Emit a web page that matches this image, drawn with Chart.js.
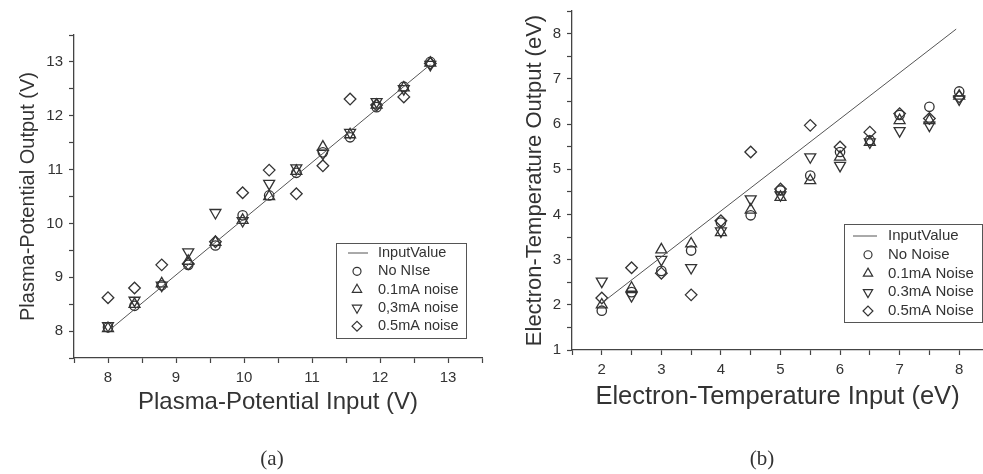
<!DOCTYPE html>
<html>
<head>
<meta charset="utf-8">
<script src="https://cdn.jsdelivr.net/npm/chart.js@4.4.1/dist/chart.umd.min.js"></script>
<style>
html,body{margin:0;padding:0;background:#fff;}
#wrap{position:relative;width:983px;height:474px;overflow:hidden;background:#fff;}
.pane{position:absolute;top:0;height:474px;}
.cap{position:absolute;top:446px;font-family:"Liberation Serif","DejaVu Serif",serif;font-size:21px;color:#333;transform:translateX(-50%);white-space:nowrap;}
</style>
</head>
<body>
<div id="wrap">
  <div class="pane" style="left:0;width:500px;"><canvas id="cA" width="500" height="474"></canvas></div>
  <div class="pane" style="left:500px;width:483px;"><canvas id="cB" width="483" height="474"></canvas></div>
  <div class="cap" style="left:272px;">(a)</div>
  <div class="cap" style="left:762px;">(b)</div>
</div>
<script>
// ---------- Panel (a): plasma potential ----------
const plasmaInput   = [8.0, 8.39, 8.79, 9.18, 9.58, 9.98, 10.37, 10.77, 11.16, 11.56, 11.95, 12.35, 12.74];
const plasmaLineX   = [8.05, 12.74];
const plasmaLineY   = [8.05, 12.95];
const plasmaNoNoise = [8.07, 8.47, 8.85, 9.23, 9.59, 10.15, 10.52, 10.94, 11.32, 11.60, 12.16, 12.54, 13.00];
const plasma01mA    = [8.05, 8.50, 8.88, 9.30, 9.65, 10.06, 10.50, 10.97, 11.42, 11.65, 12.20, 12.52, 12.98];
const plasma03mA    = [8.10, 8.57, 8.85, 9.47, 10.20, 10.05, 10.74, 11.03, 11.30, 11.69, 12.26, 12.50, 12.95];
const plasma05mA    = [8.62, 8.80, 9.23, 9.25, 9.66, 10.57, 10.99, 10.55, 11.07, 12.31, 12.20, 12.35, 12.97];
const plasmaXTicks  = [8, 9, 10, 11, 12, 13];
const plasmaYTicks  = [8, 9, 10, 11, 12, 13];
const plasmaLabels  = ['InputValue', 'No NIse', '0.1mA noise', '0,3mA noise', '0.5mA noise'];

// ---------- Panel (b): electron temperature ----------
const tempInput   = [2, 2.5, 3, 3.5, 4, 4.5, 5, 5.5, 6, 6.5, 7, 7.5, 8];
const tempLineX   = [2.0, 7.95];
const tempLineY   = [2.04, 8.1];
const tempNoNoise = [1.87, 2.28, 2.75, 3.20, 3.82, 3.98, 4.53, 4.86, 5.38, 5.64, 6.20, 6.38, 6.72];
const temp01mA    = [2.00, 2.37, 3.22, 3.35, 3.60, 4.10, 4.38, 4.75, 5.27, 5.60, 6.08, 6.08, 6.62];
const temp03mA    = [2.52, 2.20, 3.00, 2.82, 3.63, 4.34, 4.43, 5.27, 5.08, 5.60, 5.85, 5.97, 6.55];
const temp05mA    = [2.15, 2.82, 2.70, 2.22, 3.86, 5.38, 4.56, 5.97, 5.49, 5.82, 6.23, 6.12, 6.60];
const tempXTicks  = [2, 3, 4, 5, 6, 7, 8];
const tempYTicks  = [1, 2, 3, 4, 5, 6, 7, 8];
const tempLabels  = ['InputValue', 'No Noise', '0.1mA Noise', '0.3mA Noise', '0.5mA Noise'];

const FONT = '"Liberation Sans", Arial, Helvetica, sans-serif';
const INK = '#333';
const MARK = '#333';

function pts(xs, ys) { return xs.map((x, i) => ({ x: x, y: ys[i] })); }

function makeDatasets(lineX, lineY, xs, s1, s2, s3, s4, labels) {
  const base = { showLine: false, backgroundColor: 'rgba(0,0,0,0)', borderColor: MARK, borderWidth: 1.3 };
  return [
    { label: labels[0], data: pts(lineX, lineY), showLine: true, pointRadius: 0, borderColor: '#555', borderWidth: 1, backgroundColor: 'rgba(0,0,0,0)' },
    Object.assign({ label: labels[1], data: pts(xs, s1), pointStyle: 'circle', pointRadius: 4.7 }, base),
    Object.assign({ label: labels[2], data: pts(xs, s2), pointStyle: 'triangle', pointRadius: 6.3 }, base),
    Object.assign({ label: labels[3], data: pts(xs, s3), pointStyle: 'triangle', pointRotation: 180, pointRadius: 6.3 }, base),
    Object.assign({ label: labels[4], data: pts(xs, s4), pointStyle: 'rectRot', pointRadius: 5.8 }, base)
  ];
}

function near(a, b) { return Math.abs(a - b) < 1e-3; }
function halfStepFilter(s) {
  s.ticks = s.ticks.filter(t => near(t.value * 2, Math.round(t.value * 2)));
}

function axis(min, max, labels, title, isX, size, titleSize, titlePad) {
  return {
    type: 'linear', min: min, max: max,
    afterBuildTicks: halfStepFilter,
    afterFit: s => {
      if (isX) s.height = size; else s.width = size;
      s.paddingLeft = 0; s.paddingRight = 0; s.paddingTop = 0; s.paddingBottom = 0;
    },
    ticks: {
      stepSize: 0.5, includeBounds: false, autoSkip: false, maxRotation: 0, padding: 6, color: INK,
      font: { family: FONT, size: 15 },
      callback: v => { const m = labels.find(l => near(l, v)); return m === undefined ? '' : String(m); }
    },
    grid: { drawOnChartArea: false, drawTicks: true, tickLength: 5, tickColor: '#444', tickWidth: 1.2 },
    border: { display: true, color: '#444', width: 1.3 },
    title: { display: true, text: title, color: INK, font: { family: FONT, size: titleSize }, padding: titlePad }
  };
}

const boxLegend = {
  id: 'boxLegend',
  afterDraw(chart, args, o) {
    const ctx = chart.ctx, a = chart.chartArea;
    const right = a.right - o.right, bottom = a.bottom - o.bottom;
    const left = right - o.width, top = bottom - o.height;
    ctx.save();
    ctx.fillStyle = '#fff';
    ctx.fillRect(left, top, o.width, o.height);
    ctx.strokeStyle = '#555';
    ctx.lineWidth = 1;
    ctx.strokeRect(Math.round(left) + 0.5, Math.round(top) + 0.5, o.width, o.height);
    ctx.font = o.fontSize + 'px ' + FONT;
    ctx.textBaseline = 'middle';
    chart.data.datasets.forEach((ds, i) => {
      const y = top + o.firstRow + i * o.rowGap;
      if (ds.showLine) {
        ctx.strokeStyle = '#555'; ctx.lineWidth = 1;
        ctx.beginPath(); ctx.moveTo(left + o.lineX0, y); ctx.lineTo(left + o.lineX1, y); ctx.stroke();
      } else {
        ctx.strokeStyle = MARK; ctx.fillStyle = 'rgba(0,0,0,0)'; ctx.lineWidth = 1.2;
        Chart.helpers.drawPoint(ctx, { pointStyle: ds.pointStyle, rotation: ds.pointRotation || 0, radius: ds.pointRadius * 0.85, borderWidth: 1.2 }, left + o.symX, y);
      }
      ctx.fillStyle = INK;
      ctx.fillText(ds.label, left + o.textX, y);
    });
    ctx.restore();
  }
};

new Chart(document.getElementById('cA'), {
  type: 'scatter',
  data: { datasets: makeDatasets(plasmaLineX, plasmaLineY, plasmaInput, plasmaNoNoise, plasma01mA, plasma03mA, plasma05mA, plasmaLabels) },
  options: {
    responsive: false, animation: false, devicePixelRatio: 1,
    layout: { autoPadding: false, padding: { left: 0, right: 18, top: 35, bottom: 56 } },
    plugins: {
      legend: { display: false }, tooltip: { enabled: false },
      boxLegend: { right: 16, bottom: 20, width: 130, height: 95, firstRow: 10, rowGap: 18.3, lineX0: 12, lineX1: 32, symX: 21, textX: 42, fontSize: 14.5 }
    },
    scales: {
      x: axis(7.5, 13.5, plasmaXTicks, 'Plasma-Potential Input (V)', true, 60, 24, { top: 0, bottom: 1 }),
      y: axis(7.5, 13.5, plasmaYTicks, 'Plasma-Potential Output (V)', false, 74, 20, { top: 16, bottom: 0 })
    }
  },
  plugins: [boxLegend]
});

new Chart(document.getElementById('cB'), {
  type: 'scatter',
  data: { datasets: makeDatasets(tempLineX, tempLineY, tempInput, tempNoNoise, temp01mA, temp03mA, temp05mA, tempLabels) },
  options: {
    responsive: false, animation: false, devicePixelRatio: 1,
    layout: { autoPadding: false, padding: { left: 0, right: 0, top: 11, bottom: 62 } },
    plugins: {
      legend: { display: false }, tooltip: { enabled: false },
      boxLegend: { right: 1, bottom: 28, width: 138, height: 98, firstRow: 12, rowGap: 18.75, lineX0: 9, lineX1: 33, symX: 24, textX: 44, fontSize: 15 }
    },
    scales: {
      x: axis(1.5, 8.4, tempXTicks, 'Electron-Temperature Input (eV)', true, 62, 25.5, { top: 0, bottom: 0 }),
      y: axis(1, 8.5, tempYTicks, 'Electron-Temperature Output (eV)', false, 72, 22, { top: 22, bottom: 0 })
    }
  },
  plugins: [boxLegend]
});
</script>
</body>
</html>
